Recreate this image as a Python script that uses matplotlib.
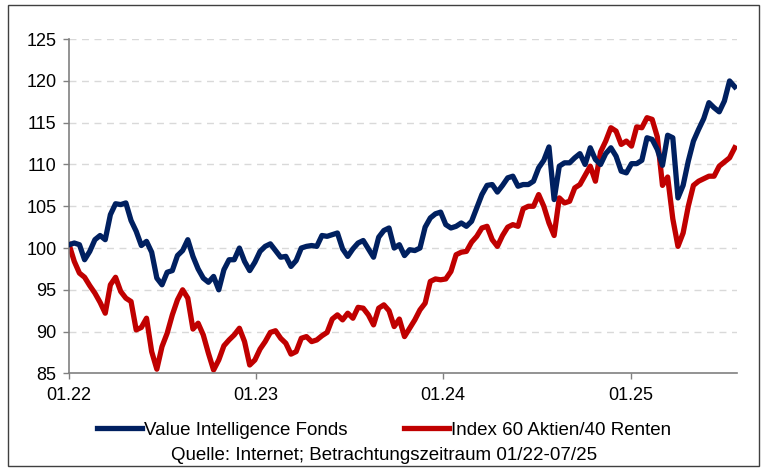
import numpy as np
import pandas as pd
import matplotlib.pyplot as plt
import matplotlib.dates as mdates
from matplotlib.patches import Rectangle

plt.rcParams['font.family'] = ['Liberation Sans', 'DejaVu Sans']

# values, roughly every 10 days from 01/2022 to 07/2025
fonds = [
    100.4, 100.6, 100.4, 98.6, 99.6, 101.0, 101.5, 101.0, 104.0, 105.3,
    105.2, 105.4, 103.3, 102.0, 100.3, 100.8, 99.5, 96.4, 95.6, 97.1,
    97.3, 99.1, 99.7, 101.0, 99.0, 97.5, 96.4, 95.9, 96.6, 95.0,
    97.4, 98.6, 98.6, 100.0, 98.4, 97.3, 98.3, 99.6, 100.2, 100.5,
    99.7, 98.9, 99.0, 97.8, 98.5, 100.0, 100.2, 100.3, 100.2, 101.5,
    101.4, 101.6, 101.8, 99.9, 99.0, 99.9, 100.6, 100.9, 99.9, 98.9,
    101.3, 102.1, 102.4, 100.0, 100.4, 99.1, 99.8, 99.7, 100.0, 102.5,
    103.6, 104.1, 104.3, 102.8, 102.4, 102.6, 103.0, 102.6, 103.2, 104.8,
    106.4, 107.5, 107.6, 106.7, 107.5, 108.4, 108.6, 107.4, 107.6, 107.6,
    108.0, 109.6, 110.5, 112.1, 105.8, 109.8, 110.2, 110.2, 110.8, 111.3,
    110.0, 112.0, 110.6, 110.0, 111.3, 112.0, 111.0, 109.2, 109.0, 110.1,
    110.1, 110.5, 113.2, 113.0, 111.8, 109.9, 113.5, 113.2, 106.0, 107.5,
    110.4, 112.8, 114.2, 115.5, 117.4, 116.8, 116.3, 117.6, 120.0, 119.3,
]
index_60_40 = [
    100.4, 98.4, 97.0, 96.5, 95.5, 94.6, 93.5, 92.2, 95.6, 96.5,
    94.8, 94.0, 93.6, 90.2, 90.5, 91.6, 87.6, 85.5, 88.2, 89.8,
    92.0, 93.8, 95.0, 94.0, 90.3, 91.0, 89.6, 87.4, 85.4, 86.6,
    88.3, 89.0, 89.6, 90.4, 88.8, 86.0, 86.6, 87.9, 88.8, 89.9,
    90.1, 89.2, 88.6, 87.3, 87.6, 89.2, 89.4, 88.8, 89.0, 89.5,
    89.9, 91.5, 92.0, 91.4, 92.2, 91.6, 92.9, 92.8, 92.0, 90.8,
    92.8, 93.2, 92.5, 90.6, 91.5, 89.4, 90.4, 91.4, 92.6, 93.4,
    96.0, 96.3, 96.2, 96.3, 97.2, 99.2, 99.5, 99.6, 100.7, 101.4,
    102.4, 102.6, 101.0, 100.2, 101.5, 102.5, 102.8, 102.6, 104.7, 105.0,
    105.0, 106.4, 105.0, 103.0, 101.5, 106.0, 105.4, 105.6, 107.2, 107.6,
    108.7, 109.8, 108.0, 111.5, 112.8, 114.4, 114.0, 112.4, 112.8, 112.2,
    114.5, 114.4, 115.6, 115.4, 113.3, 107.5, 108.5, 103.5, 100.2, 101.8,
    105.0, 107.5, 108.0, 108.3, 108.6, 108.6, 109.8, 110.3, 110.8, 112.0,
]
dates = pd.date_range("2022-01-01", "2025-07-23", periods=len(fonds))

year_ticks = pd.to_datetime(["2022-01-01", "2023-01-01", "2024-01-01", "2025-01-01"])
y_ticks = [85, 90, 95, 100, 105, 110, 115, 120, 125]

blue = "#002060"
red = "#C00000"

fig = plt.figure(figsize=(7.68, 4.72), dpi=100)
ax = fig.add_axes([0.090, 0.209, 0.870, 0.708])

ax.plot(dates, fonds, color=blue, lw=3.8, solid_joinstyle="round",
        label="Value Intelligence Fonds", zorder=3)
ax.plot(dates, index_60_40, color=red, lw=3.8, solid_joinstyle="round",
        label="Index 60 Aktien/40 Renten", zorder=2)

ax.set_xlim(pd.Timestamp("2022-01-01"), pd.Timestamp("2025-07-28"))
ax.set_ylim(85, 125)
ax.set_yticks(y_ticks)
ax.set_xticks(year_ticks)
ax.xaxis.set_major_formatter(mdates.DateFormatter("%m.%y"))

for v in y_ticks[1:]:
    ax.axhline(v, color="#D9D9D9", lw=1, ls=(0, (5, 4)), zorder=1)

for side in ["top", "right"]:
    ax.spines[side].set_visible(False)
for side in ["left", "bottom"]:
    ax.spines[side].set_color("#808080")
    ax.spines[side].set_linewidth(1.2)
ax.tick_params(axis="both", colors="#808080", labelcolor="black",
               labelsize=13, length=4, width=1)
ax.tick_params(axis="x", pad=6)
ax.tick_params(axis="y", pad=5)

fig.legend(loc="center", bbox_to_anchor=(0.5, 0.088), ncol=2, frameon=False,
           fontsize=13.5, handlelength=2.4, handletextpad=0.1, columnspacing=3.0)
fig.text(0.5, 0.036, "Quelle: Internet; Betrachtungszeitraum 01/22-07/25",
         ha="center", va="center", fontsize=13.5)

fig.patches.append(Rectangle((0.011, 0.012), 0.977, 0.978, transform=fig.transFigure,
                             fill=False, edgecolor="#404040", lw=1))

fig.savefig("out.png", dpi=100)
